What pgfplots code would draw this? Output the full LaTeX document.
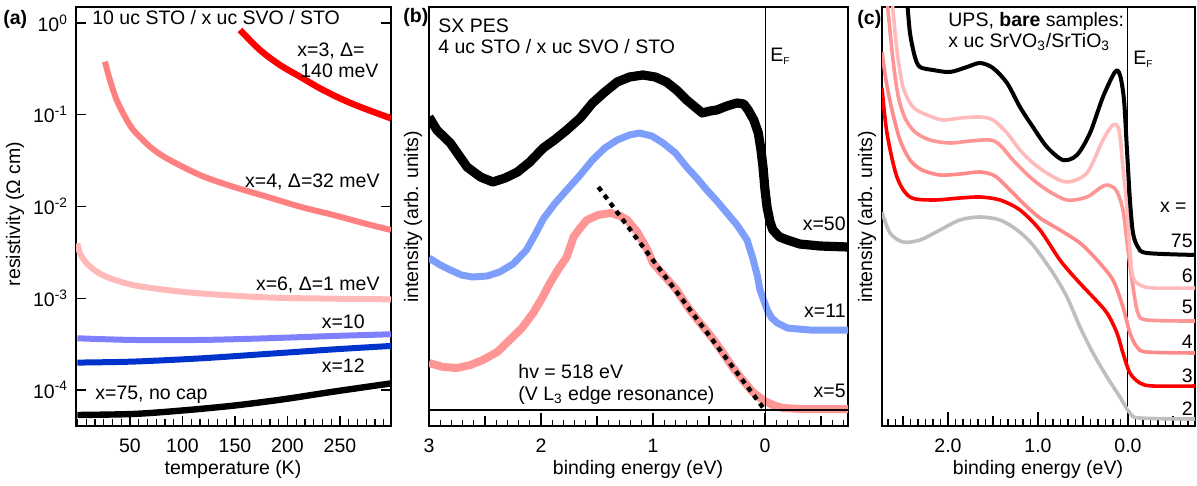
\documentclass[border=0pt]{standalone}
\usepackage{pgfplots}
\pgfplotsset{compat=1.18}
\usepackage{fontspec}
\setmainfont{Liberation Sans}
\newcommand{\fs}{\fontsize{9.75}{11.7}\selectfont}
\definecolor{cRed}{RGB}{255,0,0}
\definecolor{cSalA}{RGB}{255,128,128}
\definecolor{cPinkA}{RGB}{255,185,185}
\definecolor{cLav}{RGB}{128,128,255}
\definecolor{cBlue}{RGB}{0,51,204}
\definecolor{cBlueB}{RGB}{125,158,250}
\definecolor{cPinkB}{RGB}{255,150,150}
\definecolor{cSix}{RGB}{255,187,187}
\definecolor{cFive}{RGB}{255,150,150}
\definecolor{cFour}{RGB}{255,138,138}
\definecolor{cGray}{RGB}{190,190,190}
\newcommand{\EF}{E{\fontsize{5}{6}\selectfont\raisebox{-1.5pt}{F}}}
\begin{document}
\begin{tikzpicture}[font=\fs]
\path[use as bounding box] (0,0) rectangle (598.5pt,-243pt);
\pgfplotsset{every axis/.append style={
  scale only axis, height=209.5pt, anchor=south west,
  axis line style={line width=0.6pt},
  every tick/.style={black,line width=0.6pt},
  tick label style={font=\fs},
  tick align=inside, xtick pos=bottom,
  xticklabel shift=3pt,
}}
% ---------------- (a)
\begin{axis}[
  at={(38pt,-213pt)}, width=157.5pt,
  ymode=log, xmin=-1.4, xmax=298.6, ymin=4.05e-5, ymax=1.494,
  xtick={50,100,150,200,250}, xticklabels={50,100,150,200,250},
  minor xtick={0,8.3333,...,300},
  ytick={1,0.1,0.01,0.001,0.0001},
  yticklabels={10\textsuperscript{0},10\textsuperscript{-1},10\textsuperscript{-2},10\textsuperscript{-3},10\textsuperscript{-4}},
  ytick pos=both, major tick length=5pt, minor tick length=3.5pt,
  yticklabel shift=0.5pt,
]
\addplot[cRed, line width=3.2pt, smooth] coordinates {(154.8,0.839) (173.8,0.508) (192.9,0.348) (211.9,0.260) (231,0.194) (250,0.151) (269,0.122) (298.6,0.0914)};
\addplot[cSalA, line width=3pt, smooth] coordinates {(26.2,0.379) (30.9,0.239) (37.3,0.145) (45.2,0.0953) (53.2,0.0682) (69,0.0449) (85,0.0335) (116.7,0.0220) (148.4,0.0164) (180.2,0.0128) (212,0.00995) (243.7,0.00808) (275.4,0.00645) (298.6,0.00554)};
\addplot[cPinkA, line width=3pt, smooth] coordinates {(0,0.00397) (2.4,0.00309) (8.8,0.00240) (18.3,0.00195) (31,0.00165) (53.2,0.00139) (85,0.00123) (116.7,0.00113) (180.2,0.00102) (243.7,0.000989) (298.6,0.000973)};
\addplot[cLav, line width=3pt, smooth] coordinates {(0,3.66e-4) (53.2,3.51e-4) (116.7,3.51e-4) (180,3.66e-4) (243.7,3.88e-4) (298.6,4.05e-4)};
\addplot[cBlue, line width=3pt, smooth] coordinates {(0,1.99e-4) (53.2,2.04e-4) (116.7,2.21e-4) (180,2.47e-4) (243.7,2.77e-4) (298.6,3.02e-4)};
\addplot[black, line width=3.2pt, smooth] coordinates {(0,5.34e-5) (53.2,5.48e-5) (97.6,5.95e-5) (148.4,6.75e-5) (196,7.92e-5) (243.7,9.59e-5) (298.6,1.18e-4)};
\end{axis}
% ---------------- (b)
\begin{axis}[
  at={(214.5pt,-213pt)}, width=209.5pt,
  x dir=reverse, xmin=-0.741, xmax=3, ymin=0, ymax=419,
  ytick=\empty,
  xtick={0,1,2,3}, xticklabels={0,1,2,3},
  minor xtick={-0.7,-0.6,-0.4,-0.3,-0.2,-0.1,0.1,0.2,0.3,0.4,0.6,0.7,0.8,0.9,1.1,1.2,1.3,1.4,1.6,1.7,1.8,1.9,2.1,2.2,2.3,2.4,2.6,2.7,2.8,2.9},
  extra x ticks={-0.5,0.5,1.5,2.5}, extra x tick labels={},
  extra x tick style={major tick length=5pt},
  major tick length=6.5pt, minor tick length=3pt,
]
\addplot[black, line width=4.6pt, line join=round] coordinates {(3.0,309) (2.93,296) (2.81,283) (2.66,259) (2.54,249) (2.43,244) (2.32,248) (2.21,254) (2.10,264) (1.98,278) (1.88,286) (1.77,296) (1.65,308) (1.54,323) (1.43,334) (1.32,344) (1.21,349) (1.09,351) (0.98,349) (0.88,344) (0.79,336) (0.70,326) (0.56,313) (0.49,315) (0.43,316) (0.34,320) (0.25,323) (0.19,322) (0.15,316) (0.10,306) (0.06,293) (0.036,276) (0.018,259) (0.0,236) (-0.018,219) (-0.045,204) (-0.07,196) (-0.13,189) (-0.20,186) (-0.31,182) (-0.49,180) (-0.741,179)};
\addplot[cBlueB, line width=3.5pt, line join=round] coordinates {(3.0,168) (2.90,161) (2.81,156) (2.71,151) (2.61,149) (2.48,150) (2.37,154) (2.25,162) (2.13,176) (2.05,192) (1.98,207) (1.88,222) (1.77,236) (1.65,251) (1.54,266) (1.43,278) (1.32,286) (1.21,291) (1.12,293) (1.01,290) (0.91,283) (0.80,273) (0.70,259) (0.61,248) (0.52,236) (0.43,225) (0.34,213) (0.25,201) (0.16,186) (0.11,168) (0.07,151) (0.045,136) (-0.02,116) (-0.06,108) (-0.11,103) (-0.20,98) (-0.40,96) (-0.741,96)};
\addplot[cPinkB, line width=4pt, line join=round] coordinates {(3.0,63) (2.875,59) (2.75,58) (2.63,61) (2.52,66) (2.39,74) (2.28,86) (2.17,98) (2.07,113) (1.99,128) (1.92,143) (1.85,156) (1.77,169) (1.71,189) (1.65,198) (1.59,206) (1.49,211) (1.38,213) (1.29,210) (1.23,206) (1.14,194) (1.05,176) (1.00,163) (0.89,149) (0.79,136) (0.69,119) (0.58,103) (0.47,88) (0.375,73) (0.29,59) (0.20,46) (0.11,34) (0.02,26) (-0.07,21) (-0.16,18) (-0.31,17) (-0.741,17)};
\addplot[black, line width=2.2pt, dash pattern=on 2.5pt off 2.5pt] coordinates {(1.488,239) (0.015,18)};
\draw[line width=0.6pt] (axis cs:3,16) -- (axis cs:-0.741,16);
\draw[line width=0.5pt] (axis cs:0,0) -- (axis cs:0,419);
\end{axis}
% ---------------- (c)
\begin{axis}[
  at={(441pt,-213pt)}, width=156.5pt,
  x dir=reverse, xmin=-0.745, xmax=2.733, ymin=0, ymax=419,
  ytick=\empty,
  xtick={0,1,2}, xticklabels={0.0,1.0,2.0},
  minor xtick={-0.66667,-0.58333,...,2.7},
  extra x ticks={-0.5,0.5,1.5,2.5}, extra x tick labels={},
  extra x tick style={major tick length=5pt},
  major tick length=7pt, minor tick length=3.5pt,
]
\draw[line width=0.5pt] (axis cs:0,0) -- (axis cs:0,419);
\addplot[cGray, line width=1.8pt, smooth] coordinates {(2.733,214) (2.644,193) (2.500,184) (2.311,186) (2.089,196) (1.867,206) (1.644,209) (1.422,206) (1.233,196) (1.056,181) (0.833,153) (0.678,129) (0.533,99) (0.389,73) (0.233,49) (0.089,29) (-0.022,13) (-0.133,8) (-0.767,7)};
\addplot[cRed, line width=1.8pt, smooth] coordinates {(2.733,338) (2.678,293) (2.567,249) (2.422,229) (2.167,226) (1.867,228) (1.644,229) (1.422,226) (1.200,216) (0.978,196) (0.756,166) (0.567,146) (0.389,129) (0.233,113) (0.122,93) (0.056,73) (-0.022,53) (-0.133,43) (-0.278,40) (-0.767,40)};
\addplot[cFour, line width=1.8pt, smooth] coordinates {(2.733,374) (2.689,346) (2.622,316) (2.533,286) (2.422,266) (2.289,256) (2.089,251) (1.867,252) (1.644,254) (1.478,250) (1.311,236) (1.144,221) (0.978,208) (0.756,196) (0.533,183) (0.344,166) (0.167,146) (0.056,119) (-0.022,93) (-0.100,79) (-0.211,74) (-0.767,73)};
\addplot[cFive, line width=1.8pt, smooth] coordinates {(2.689,436) (2.656,406) (2.611,366) (2.556,331) (2.478,308) (2.367,294) (2.200,286) (1.978,283) (1.756,285) (1.533,286) (1.422,281) (1.278,266) (1.089,249) (0.900,236) (0.678,226) (0.456,229) (0.311,238) (0.233,241) (0.133,236) (0.056,216) (0.000,176) (-0.056,139) (-0.111,113) (-0.211,106) (-0.767,105)};
\addplot[cSix, line width=1.8pt, smooth] coordinates {(2.633,436) (2.622,426) (2.567,376) (2.500,339) (2.389,319) (2.233,311) (2.056,306) (1.867,308) (1.644,309) (1.500,306) (1.344,293) (1.200,276) (1.056,263) (0.867,251) (0.678,244) (0.456,253) (0.278,286) (0.167,301) (0.100,296) (0.056,259) (0.011,219) (-0.022,176) (-0.056,149) (-0.133,141) (-0.278,138) (-0.767,138)};
\addplot[black, line width=2pt, smooth] coordinates {(2.500,456) (2.456,426) (2.422,393) (2.367,369) (2.311,359) (2.167,356) (1.978,354) (1.789,359) (1.644,363) (1.500,358) (1.344,343) (1.200,319) (1.056,299) (0.900,279) (0.722,266) (0.567,271) (0.422,293) (0.278,329) (0.144,354) (0.089,351) (0.044,326) (0.011,276) (-0.022,226) (-0.056,193) (-0.111,179) (-0.211,173) (-0.767,171)};
\end{axis}
% ---------------- texts
\begin{scope}[x=0.5pt,y=-0.5pt]
\tikzset{every node/.style={inner sep=0pt}}
% (a)
\node[anchor=base west] at (3,25) {\textbf{(a)}};
\node[anchor=base west] at (92,25) {10 uc STO / x uc SVO / STO};
\node[anchor=base west] at (297,57) {x=3, Δ=};
\node[anchor=base west] at (300,78) {140 meV};
\node[anchor=base east] at (380,188) {x=4, Δ=32 meV};
\node[anchor=base east] at (380,290) {x=6, Δ=1 meV};
\node[anchor=base east] at (365,328) {x=10};
\node[anchor=base east] at (365,372) {x=12};
\node[anchor=base west] at (95,399) {x=75, no cap};
\node[rotate=90,anchor=base] at (20,214) {resistivity (Ω cm)};
\node[anchor=base] at (233,474) {temperature (K)};
% (b)
\node[anchor=base west] at (403,23) {\textbf{(b)}};
\node[anchor=base west] at (438,33) {SX PES};
\node[anchor=base west] at (438,54) {4 uc STO / x uc SVO / STO};
\node[anchor=base west] at (770,62) {\EF};
\node[anchor=base east] at (846,230) {x=50};
\node[anchor=base east] at (846,317) {x=11};
\node[anchor=base east] at (846,397) {x=5};
\node[anchor=base west] at (518,378) {hv = 518 eV};
\node[anchor=base west] at (518,400) {(V L\textsubscript{3} edge resonance)};
\node[rotate=90,anchor=base] at (418,217) {intensity (arb. units)};
\node[anchor=base] at (638,474) {binding energy (eV)};
% (c)
\node[anchor=base west] at (857,25) {\textbf{(c)}};
\node[anchor=base west] at (948,27) {UPS, \textbf{bare} samples:};
\node[anchor=base west] at (948,48) {x uc SrVO\textsubscript{3}/SrTiO\textsubscript{3}};
\node[anchor=base west] at (1133,65) {\EF};
\node[anchor=base east] at (1187,213) {x =};
\node[anchor=base east] at (1193,247) {75};
\node[anchor=base east] at (1193,282) {6};
\node[anchor=base east] at (1193,313) {5};
\node[anchor=base east] at (1193,348) {4};
\node[anchor=base east] at (1193,382) {3};
\node[anchor=base east] at (1193,415) {2};
\node[rotate=90,anchor=base] at (872,217) {intensity (arb. units)};
\node[anchor=base] at (1038,474) {binding energy (eV)};
\end{scope}
\end{tikzpicture}
\end{document}
